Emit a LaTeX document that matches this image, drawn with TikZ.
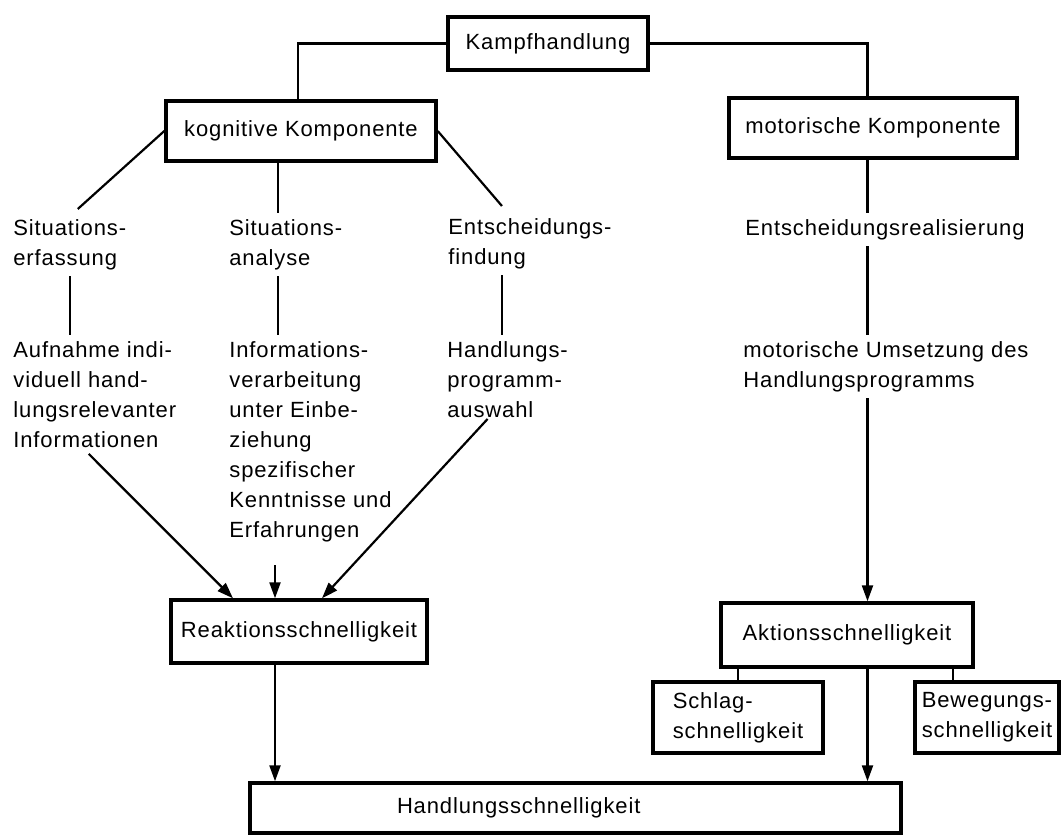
\documentclass[tikz,border=0pt]{standalone}
\usepackage{fontspec}
\setmainfont{Liberation Sans}[LetterSpace=4]
\usetikzlibrary{arrows.meta}
\begin{document}
\begin{tikzpicture}[x=0.5pt,y=-0.5pt,
  every node/.style={font=\fontsize{11}{15}\selectfont},
  box/.style={draw, line width=1.7pt, inner sep=0pt, align=center},
  txt/.style={inner xsep=0pt, inner ysep=3pt, align=left, anchor=north west},
  ln/.style={line width=1.4pt},
  diag/.style={line width=1.1pt},
  arr/.style={line width=1.1pt, -{Triangle[length=8pt,width=5.5pt]}}]
\useasboundingbox (0,0) rectangle (1061,835);
% boxes
\node[box, minimum width=100pt, minimum height=26.5pt] (kampf) at (548,43.5) {Kampfhandlung};
\node[box, minimum width=135pt, minimum height=30pt] (kog) at (301,131) {kognitive Komponente};
\node[box, minimum width=144pt, minimum height=30pt] (mot) at (873,128) {motorische Komponente};
\node[box, minimum width=128pt, minimum height=31.5pt] (reak) at (299,631.5) {Reaktionsschnelligkeit};
\node[box, minimum width=126pt, minimum height=32pt] (akt) at (847,635) {Aktionsschnelligkeit};
\node[box, minimum width=85pt, minimum height=35.5pt, align=left] (schlag) at (738,717.5) {Schlag-\\schnelligkeit};
\node[box, minimum width=72pt, minimum height=35.5pt, align=left] (beweg) at (987,717.5) {Bewegungs-\\schnelligkeit};
\node[box, minimum height=25pt, align=left, inner xsep=73.5pt, text width=178.5pt] (handl) at (575.5,808) {Handlungsschnelligkeit};
% texts
\node[txt] (se) at (13,213) {Situations-\\erfassung};
\node[txt] (sa) at (229,213) {Situations-\\analyse};
\node[txt] (ef) at (448,212) {Entscheidungs-\\findung};
\node[txt] (er) at (745,213) {Entscheidungsrealisierung};
\node[txt] (ae) at (13,335) {Aufnahme indi-\\viduell hand-\\lungsrelevanter\\Informationen};
\node[txt] (ia) at (229,335) {Informations-\\verarbeitung\\unter Einbe-\\ziehung\\spezifischer\\Kenntnisse und\\Erfahrungen};
\node[txt] (ha) at (447,335) {Handlungs-\\programm-\\auswahl};
\node[txt] (mu) at (743,335) {motorische Umsetzung des\\Handlungsprogramms};
% column coordinates
\coordinate (cA) at (298,0);
\coordinate (c1) at (70,0);
\coordinate (c2) at (278,0);
\coordinate (c3) at (502,0);
\coordinate (c4) at (867.5,0);
\coordinate (c5) at (953,0);
\coordinate (m0) at (275,565);
% connectors
\draw[ln] (kampf.west) -| (cA |- kog.north);
\draw[ln] (kampf.east) -| (c4 |- mot.north);
\draw[ln] (kog.south -| c2) -- (sa.north -| c2);
\draw[diag] (kog.west) -- ([xshift=4pt,yshift=2pt]se.north);
\draw[diag] (kog.east) -- ([xshift=-14pt,yshift=3pt]ef.north);
\draw[ln] (se.south -| c1) -- (ae.north -| c1);
\draw[ln] (sa.south -| c2) -- (ia.north -| c2);
\draw[ln] (ef.south -| c3) -- (ha.north -| c3);
\draw[ln] (mot.south -| c4) -- (er.north -| c4);
\draw[ln] (er.south -| c4) -- (mu.north -| c4);
\draw[arr] (mu.south -| c4) -- (akt.north -| c4);
\draw[arr] ([xshift=-3pt]ae.south) -- ([xshift=-33pt]reak.north);
\draw[arr] (m0) -- (m0 |- reak.north);
\draw[arr] ([xshift=-10pt,yshift=2.5pt]ha.south) -- ([xshift=11.5pt]reak.north);
\draw[arr] (reak.south -| m0) -- (handl.north -| m0);
\draw[arr] (akt.south -| c4) -- (handl.north -| c4);
\draw[ln] (akt.south -| schlag.north) -- (schlag.north);
\draw[ln] (akt.south -| c5) -- (c5 |- beweg.north);
\end{tikzpicture}
\end{document}
